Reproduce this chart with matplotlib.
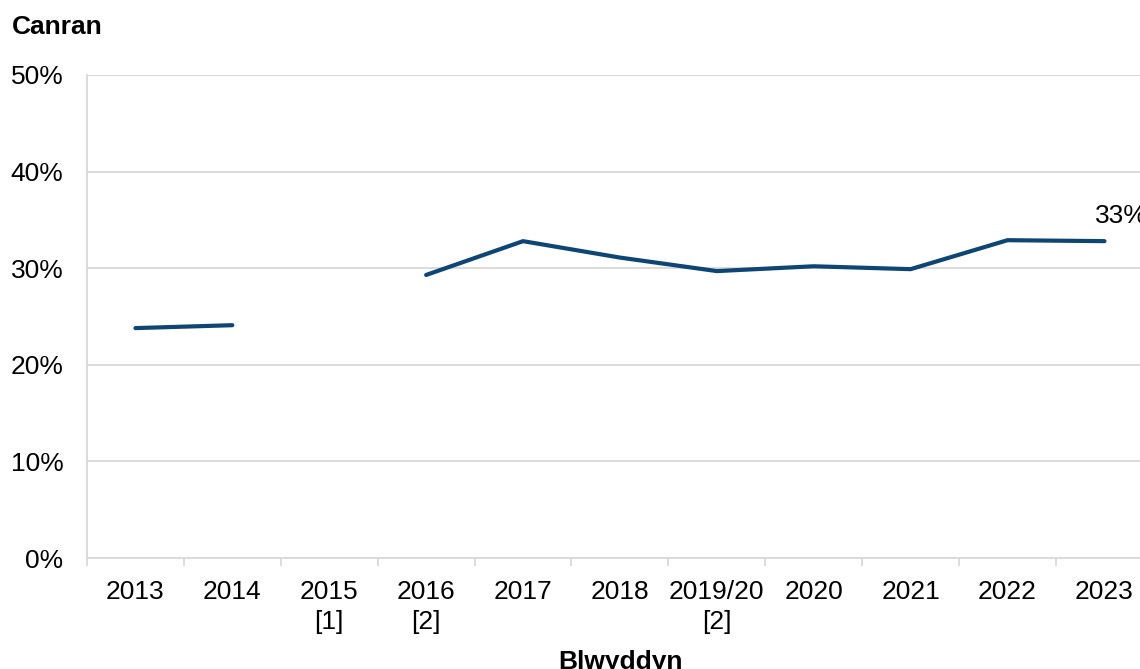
import numpy as np
import matplotlib
matplotlib.use('Agg')
import matplotlib.pyplot as plt
from matplotlib.ticker import FuncFormatter

plt.rcParams['font.family'] = ['Liberation Sans', 'DejaVu Sans']

# data (2015 has no value)
years = ['2013', '2014', '2015\n[1]', '2016\n[2]', '2017', '2018',
         '2019/20\n[2]', '2020', '2021', '2022', '2023']
canran = [23.8, 24.1, np.nan, 29.3, 32.8, 31.1, 29.7, 30.2, 29.9, 32.9, 32.8]
y_ticks = [0, 10, 20, 30, 40, 50]

line_col = '#0d4675'
grid_col = '#d9d9d9'

fig = plt.figure(figsize=(11.4, 6.69), dpi=100)
ax = fig.add_axes([0.0763, 0.1659, 0.935, 0.7220])

x = np.arange(len(years))
ax.plot(x, canran, color=line_col, linewidth=3.0, solid_capstyle='round')

# label on the last point
ax.annotate('33%', xy=(x[-1], canran[-1]), xytext=(-7, 13),
            textcoords='offset points', fontsize=19, color='#000000',
            ha='left', va='baseline')

ax.set_xlim(-0.5, len(years) - 0.5)
ax.set_ylim(0, 50)
ax.set_yticks(y_ticks)
ax.yaxis.set_major_formatter(FuncFormatter(lambda v, p: '%d%%' % v))
ax.set_xticks(x)
ax.set_xticklabels(years, linespacing=1.3)
ax.set_xticks(np.arange(len(years) + 1) - 0.5, minor=True)

ax.grid(axis='y', color=grid_col, linewidth=1.3)
ax.set_axisbelow(True)
for s in ['top', 'right']:
    ax.spines[s].set_visible(False)
ax.spines['left'].set_color(grid_col)
ax.spines['bottom'].set_color(grid_col)
ax.spines['left'].set_linewidth(1.3)
ax.spines['bottom'].set_linewidth(1.3)

ax.tick_params(axis='y', length=0, labelsize=19, pad=17)
ax.tick_params(axis='x', which='major', length=0, labelsize=19, pad=16)
ax.tick_params(axis='x', which='minor', length=6, color=grid_col, width=1.3,
               direction='out')

fig.text(0.0105, 0.960, 'Canran', fontsize=19, fontweight='bold',
         ha='left', va='center')
fig.text(0.544, 0.011, 'Blwyddyn', fontsize=19, fontweight='bold',
         ha='center', va='center')

fig.savefig('out.png', dpi=100)
